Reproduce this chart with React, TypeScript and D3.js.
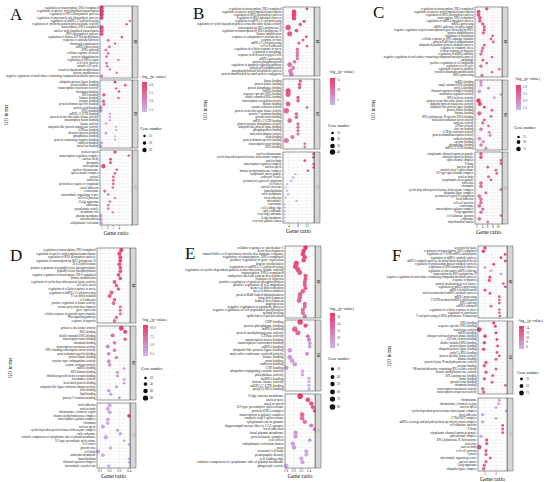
import React from 'react';
import * as d3 from 'd3';

// ---------- panel A ----------
const aBpTerms = [
  'regulation of transcription, DNA-templated', 'regulation of nucleic acid-templated transcription',
  'regulation of RNA biosynthetic process', 'regulation of macromolecule biosynthetic process',
  "regulation of mRNA 3'-end processing", 'regulation of cyclin-dependent protein kinase activity',
  'transcription, DNA-templated', 'nucleic acid-templated transcription', 'RNA biosynthetic process',
  'regulation of histone H3-K4 methylation', 'response to unfolded protein', 'chromatin organization',
  'mRNA processing', 'RNA splicing', 'cellular response to stress', 'protein ubiquitination',
  'regulation of DNA repair', 'cell cycle process', 'mitotic cell cycle', 'covalent chromatin modification',
  'histone modification', 'negative regulation of nucleobase-containing compound metabolic process',
];
const aBpRatio = [0.95, 0.95, 0.95, 0.95, 5.9, 5.35, 0.95, 0.95, 0.95, 4.5, 2.1, 3.3, 2.3, 1.7, 2.1, 1.8, 3.9, 1.8, 1.9, 2.4, 3.6, 0.95];
const aBpCount = [28, 30, 27, 25, 8, 9, 29, 26, 24, 10, 12, 9, 11, 13, 12, 11, 9, 12, 11, 10, 9, 14];
const aBpLogP = [3.1, 3.0, 3.0, 2.9, 2.8, 2.8, 2.8, 2.7, 2.7, 2.6, 2.5, 2.5, 2.5, 2.4, 2.4, 2.4, 2.3, 2.3, 2.3, 2.2, 2.2, 2.2];

const aMfTerms = [
  'ubiquitin protein ligase binding', 'protein kinase binding', 'transcription coactivator activity',
  'chromatin binding', 'RNA binding', 'histone binding', 'enzyme binding', 'protein domain specific binding',
  'nucleic acid binding', 'DNA binding', "mRNA 3'-UTR binding", 'protein serine/threonine kinase activity',
  'transcription factor binding', 'kinase activity', 'ubiquitin-like protein transferase activity',
  'GTPase binding', 'identical protein binding', 'phosphatase binding', 'protein-containing complex binding',
  'cadherin binding', 'metal ion binding',
];
const aMfRatio = [3.3, 5.1, 3.5, 4.0, 1.35, 3.9, 1.25, 1.35, 0.8, 0.8, 2.4, 2.4, 2.4, 1.7, 3.5, 3.5, 1.7, 3.3, 3.3, 0.95, 0.8];
const aMfCount = [14, 10, 9, 11, 18, 9, 16, 15, 20, 19, 8, 8, 8, 12, 8, 8, 12, 8, 8, 15, 16];
const aMfLogP = [2.9, 2.9, 2.8, 2.7, 2.6, 2.5, 2.4, 2.3, 2.0, 1.9, 1.7, 1.7, 1.7, 1.6, 1.6, 1.6, 1.6, 1.5, 1.5, 1.5, 1.5];

const aCcTerms = [
  'nuclear speck', 'transcription regulator complex', 'nuclear body', 'chromatin', 'nucleoplasm',
  'nuclear chromosome', 'spliceosomal complex', 'cytosol', 'nucleolus', 'perinuclear region of cytoplasm',
  'focal adhesion', 'centrosome', 'microtubule organizing center', 'cell-cell junction', 'Golgi apparatus',
  'endosome', 'cytoplasmic vesicle', 'membrane raft', 'plasma membrane', 'mitochondrion', 'endoplasmic reticulum',
];
const aCcRatio = [3.3, 5.7, 2.5, 2.5, 1.25, 3.6, 3.3, 3.0, 3.0, 3.0, 2.9, 1.5, 2.1, 3.3, 2.4, 2.1, 2.1, 2.9, 0.8, 0.85, 0.9];
const aCcCount = [16, 9, 13, 13, 30, 10, 11, 12, 12, 12, 11, 17, 12, 9, 11, 12, 12, 10, 20, 18, 17];
const aCcLogP = [3.0, 2.9, 2.8, 2.8, 2.8, 2.6, 2.5, 2.5, 2.4, 2.4, 2.3, 2.3, 2.2, 2.1, 2.1, 2.0, 2.0, 1.9, 1.6, 1.5, 1.4];

// ---------- panel B ----------
const bBpTerms = [
  'regulation of transcription, DNA-templated', 'regulation of nucleic acid-templated transcription',
  'regulation of RNA biosynthetic process', 'regulation of RNA metabolic process',
  "regulation of mRNA 3'-end processing", 'regulation of cyclin-dependent protein serine/threonine kinase activity',
  'transcription by RNA polymerase II', 'regulation of transcription by RNA polymerase II', 'histone modification',
  'response to endoplasmic reticulum stress', 'response to virus', "mRNA 3'-end processing", 'cell-cell adhesion',
  'regulation of cellular response to stress', 'regulation of autophagy', 'response to decreased oxygen levels',
  'mRNA processing', 'protein phosphorylation', 'regulation of apoptotic signaling pathway',
  'protein polyubiquitination', 'phosphatidylinositol biosynthetic process', 'protein modification by small protein conjugation',
];
const bBpRatio = [12.0, 6.2, 6.2, 6.2, 10.7, 9.0, 3.6, 7.3, 4.3, 11.7, 10.2, 8.4, 12.0, 7.7, 7.7, 7.7, 7.7, 6.5, 4.3, 5.8, 4.6, 5.0];
const bBpCount = [10, 32, 30, 28, 14, 16, 40, 20, 36, 12, 13, 15, 11, 16, 16, 15, 15, 18, 33, 22, 28, 25];
const bBpLogP = [15.5, 15, 14.5, 14, 13, 12.5, 12.5, 12, 12, 11.5, 11, 11, 10.5, 10.5, 10, 10, 10, 9.5, 9.5, 9, 9, 9];

const bMfTerms = [
  'kinase binding', 'protein kinase binding', 'protein phosphatase binding', 'mRNA binding',
  'sequence-specific DNA binding', 'double-stranded RNA binding', 'transcription coregulator activity',
  'histone binding', 'enzyme activator activity', 'protein serine/threonine kinase activity',
  'protein C-terminus binding', 'growth factor binding', "mRNA 3'-UTR binding", 'protein tyrosine phosphatase activity',
  'ubiquitin-like protein ligase binding', 'phosphoprotein binding', 'molecular adaptor activity', 'actin binding',
  'protein domain specific binding', 'transcription factor binding', 'RNA binding',
];
const bMfRatio = [9.0, 8.7, 8.7, 3.6, 3.6, 8.0, 8.0, 3.6, 12.0, 2.8, 7.3, 7.3, 4.3, 8.0, 8.0, 8.0, 8.0, 5.5, 2.8, 11.0, 11.0];
const bMfCount = [14, 15, 15, 38, 36, 16, 16, 34, 10, 40, 17, 17, 30, 15, 15, 14, 14, 22, 35, 11, 11];
const bMfLogP = [14, 13.5, 13, 13, 12.5, 12, 12, 11.5, 11.5, 11, 11, 10.5, 10.5, 10, 10, 10, 9.5, 9.5, 9, 9, 8.5];

const bCcTerms = [
  'nuclear chromosome', 'cyclin-dependent protein kinase holoenzyme complex', 'nuclear body',
  'transcription regulator complex', 'nuclear speck', 'histone methyltransferase complex',
  'cytoplasmic stress granule', 'endocytic vesicle', 'perinuclear region of cytoplasm', 'cell cortex',
  'nuclear envelope', 'lamellipodium', 'ruffle membrane', 'focal adhesion', 'microtubule', 'centrosome',
  'cell leading edge', 'early endosome', 'recycling endosome', 'Golgi membrane', 'secretory granule lumen',
];
const bCcRatio = [15.0, 15.0, 11.0, 15.0, 15.0, 12.4, 6.8, 5.8, 5.0, 3.1, 2.5, 3.1, 3.6, 2.5, 7.3, 2.1, 2.1, 2.1, 2.1, 2.1, 2.1];
const bCcCount = [12, 12, 10, 11, 11, 10, 8, 8, 8, 7, 6, 6, 7, 6, 8, 6, 5, 5, 5, 5, 5];
const bCcLogP = [15, 14.5, 14, 13.5, 13, 12.5, 4, 3.8, 3.6, 3.5, 3.4, 3.3, 3.2, 3.1, 3, 2.9, 2.8, 2.7, 2.6, 2.5, 2.4];

// ---------- panel C ----------
const cBpTerms = [
  'regulation of transcription, DNA-templated', 'regulation of nucleic acid-templated transcription',
  'regulation of RNA biosynthetic process', 'transcription, DNA-templated', 'regulation of mRNA metabolic process',
  'mRNA processing', 'mRNA splicing, via spliceosome', 'negative regulation of post-transcriptional gene silencing by RNA',
  'protein ubiquitination', 'regulation of translation', 'cellular response to DNA damage stimulus',
  'protein K48-linked ubiquitination', 'ubiquitin-dependent protein catabolic process', 'response to oxidative stress',
  'cellular response to hypoxia', 'regulation of mRNA stability',
  'negative regulation of nucleobase-containing compound metabolic process', 'autophagy',
  'positive regulation of cell migration', 'regulation of cell cycle', 'regulation of protein stability',
  'covalent chromatin modification', 'tRNA processing',
];
const cBpRatio = [5.7, 2.6, 2.6, 3.1, 3.1, 4.2, 4.8, 4.8, 4.4, 8.0, 7.3, 8.2, 4.8, 4.2, 3.9, 3.5, 7.7, 4.2, 5.7, 3.5, 10.5, 7.7, 3.9];
const cBpCount = [40, 55, 50, 45, 45, 38, 35, 35, 36, 28, 28, 27, 34, 36, 38, 40, 27, 36, 30, 40, 25, 27, 38];
const cBpLogP = [2.8, 2.7, 2.7, 2.7, 2.6, 2.6, 2.6, 2.6, 2.6, 2.5, 2.5, 2.5, 2.5, 2.5, 2.4, 2.4, 2.4, 2.4, 2.4, 2.4, 2.3, 2.3, 2.3];

const cMfTerms = [
  'mRNA binding', 'single-stranded RNA binding', 'poly(A) binding', 'ribonucleoprotein complex binding',
  'translation regulator activity', 'RNA helicase activity', 'protein serine/threonine kinase activity',
  'ubiquitin-protein transferase activity', 'ubiquitin-like protein ligase binding', 'protein kinase binding',
  'histone binding', 'RNA polymerase II-specific DNA-binding', 'translation initiation factor activity',
  'nuclease activity', 'ATPase activity', 'zinc ion binding', 'GTPase activator activity',
  'protein homodimerization activity', 'cadherin binding', 'enzyme binding', 'phosphatase binding', "mRNA 3'-UTR binding",
];
const cMfRatio = [3.5, 3.5, 6.4, 2.9, 11.1, 8.6, 2.6, 3.1, 4.8, 7.7, 2.9, 7.3, 4.8, 4.2, 6.4, 3.5, 6.7, 7.0, 2.9, 4.4, 3.5, 5.4];
const cMfCount = [38, 40, 30, 50, 25, 28, 70, 55, 35, 28, 60, 30, 36, 38, 30, 45, 30, 30, 55, 40, 45, 32];
const cMfLogP = [2.0, 1.9, 1.8, 1.7, 1.6, 1.6, 3.1, 3.0, 2.8, 2.6, 2.5, 2.5, 2.4, 2.3, 2.3, 2.2, 2.1, 2.0, 1.9, 1.8, 2.2, 2.1];

const cCcTerms = [
  'cytoplasmic ribonucleoprotein granule', 'ribonucleoprotein granule', 'spliceosomal complex', 'P-body',
  'nuclear speck', 'catalytic step 2 spliceosome', 'U2-type spliceosomal complex', 'nuclear body',
  'cytoplasmic stress granule', 'nucleolus', 'chromatin', 'cyclin-dependent protein kinase holoenzyme complex',
  'ubiquitin ligase complex', 'perinuclear region of cytoplasm', 'focal adhesion', 'cell-cell junction',
  'centrosome', 'transcription regulator complex', 'Golgi apparatus', 'cell-substrate junction', 'endosome',
  'mitochondrial matrix',
];
const cCcRatio = [3.5, 3.5, 11.1, 11.1, 6.1, 9.2, 9.5, 6.4, 7.3, 3.5, 3.5, 11.1, 5.4, 2.9, 3.5, 3.5, 2.9, 4.2, 3.5, 11.1, 2.9, 6.1];
const cCcCount = [45, 45, 25, 25, 32, 28, 28, 32, 30, 45, 45, 25, 34, 50, 45, 45, 50, 38, 45, 25, 50, 32];
const cCcLogP = [2.6, 2.6, 2.6, 2.6, 2.5, 2.5, 2.5, 2.5, 2.5, 2.4, 2.4, 2.4, 2.4, 2.4, 2.3, 2.3, 2.3, 2.3, 2.3, 2.3, 2.2, 2.2];

// ---------- panel D ----------
const dBpTerms = [
  'regulation of transcription, DNA-templated', 'regulation of nucleic acid-templated transcription',
  'regulation of RNA biosynthetic process', 'regulation of transcription by RNA polymerase II',
  'B cell proliferation', 'positive regulation of peptidyl-serine phosphorylation', 'peptidyl-serine phosphorylation',
  'negative regulation of transcription, DNA-templated', 'histone modification',
  'regulation of cyclin-dependent protein kinase activity', 'cell cycle arrest',
  'regulation of cellular response to stress', "regulation of mRNA 3'-end processing", 'T cell differentiation',
  'cell adhesion', 'positive regulation of kinase activity', 'neuron projection development', 'gene expression',
  'cellular response to growth factor stimulus', 'Wnt signaling pathway', 'response to hypoxia',
];
const dBpRatio = [0.32, 0.30, 0.31, 0.31, 0.30, 0.31, 0.31, 0.29, 0.31, 0.25, 0.27, 0.29, 0.22, 0.20, 0.25, 0.24, 0.31, 0.31, 0.31, 0.27, 0.25];
const dBpCount = [55, 50, 48, 45, 45, 42, 42, 40, 40, 45, 40, 38, 50, 55, 40, 40, 30, 30, 30, 38, 40];
const dBpLogP = [10.5, 10, 9.8, 9.6, 9.4, 9.2, 9, 8.8, 8.6, 8.4, 8.2, 8, 7.8, 7.6, 7.4, 7.2, 7, 7, 6.8, 6.8, 6.6];

const dMfTerms = [
  'protein serine kinase activity', 'RNA binding', 'double-stranded DNA binding', 'transcription factor binding',
  'chromatin binding', 'transcription coactivator activity', 'DNA-binding transcription factor activity',
  'protein domain specific binding', 'protein kinase binding', 'cysteine-type endopeptidase activity',
  'enzyme activator activity', 'mRNA binding', 'SH3 domain binding', 'fibroblast growth factor receptor binding',
  'ion channel activity', 'heat shock protein binding', 'ubiquitin-like ligase-substrate adaptor activity',
  'actin binding', 'lipid binding', 'protein C-terminus binding',
];
const dMfRatio = [0.32, 0.36, 0.23, 0.36, 0.25, 0.18, 0.25, 0.19, 0.27, 0.19, 0.20, 0.35, 0.28, 0.28, 0.35, 0.35, 0.27, 0.19, 0.21, 0.30];
const dMfCount = [70, 55, 50, 35, 40, 50, 40, 45, 40, 45, 45, 20, 30, 30, 25, 25, 30, 40, 35, 25];
const dMfLogP = [10, 9, 7, 8, 6, 5, 5.5, 4.5, 5, 4.5, 4, 4, 3.8, 3.6, 3.5, 3.4, 3.3, 3.2, 3.1, 3.0];

const dCcTerms = [
  'focal adhesion', 'nuclear body', 'chromosome, telomeric region', 'histone methyltransferase complex',
  'transcription regulator complex', 'chromatin', 'nuclear speck', 'cyclin-dependent protein kinase holoenzyme complex',
  'early endosome', 'extrinsic component of cytoplasmic side of plasma membrane', 'U2-type precatalytic spliceosome',
  'cell cortex', 'growth cone', 'cell body', 'endosome membrane', 'lamellipodium', 'ribonucleoprotein complex',
  'microtubule cytoskeleton',
];
const dCcRatio = [0.20, 0.18, 0.20, 0.40, 0.18, 0.18, 0.13, 0.28, 0.31, 0.16, 0.35, 0.40, 0.21, 0.08, 0.13, 0.40, 0.40, 0.19];
const dCcCount = [45, 45, 45, 40, 40, 40, 50, 35, 40, 60, 25, 20, 35, 55, 40, 20, 20, 30];
const dCcLogP = [3, 2.9, 2.9, 10.5, 2.8, 2.8, 2.7, 2.7, 2.6, 2.6, 2.5, 2.5, 2.4, 2.4, 2.3, 2.3, 2.2, 2.2];

// ---------- panel E ----------
const eBpTerms = [
  'cellular response to interleukin-1', 'heart development',
  'natural killer cell activation involved in immune response', 'regulation of transcription, DNA-templated',
  'positive regulation of gene expression', 'histone methylation', "regulation of mRNA 3'-end processing",
  'regulation of cyclin-dependent protein serine/threonine kinase activity', 'transcription, DNA-templated',
  'embryonic skeletal system development', 'response to hypoxia', 'positive regulation of protein phosphorylation',
  'positive regulation of cell migration', 'stem cell differentiation', 'fat cell differentiation',
  'protein K48-linked ubiquitination', 'lung development', 'kidney development', 'angiogenesis',
  'negative regulation of apoptotic process', 'negative regulation of cell population proliferation',
  'wound healing', 'epithelial cell proliferation',
];
const eBpRatio = [2.31, 2.26, 2.24, 2.29, 2.26, 2.07, 2.05, 2.11, 2.16, 2.31, 2.31, 2.29, 2.29, 2.31, 2.24, 2.17, 2.16, 2.14, 2.29, 2.29, 2.24, 2.24, 2.29];
const eBpCount = [55, 50, 55, 50, 48, 70, 68, 65, 60, 45, 45, 45, 45, 42, 50, 55, 55, 55, 42, 42, 45, 45, 42];
const eBpLogP = [16.5, 16, 15.8, 15.6, 15.4, 15.2, 15, 14.8, 14.6, 14.4, 14.2, 14, 14, 13.8, 13.6, 13.4, 13.2, 13, 13, 12.8, 12.6, 12.4, 12.2];

const eMfTerms = [
  'GDP binding', 'protein phosphatase binding', 'mRNA binding', 'protein methyltransferase activity',
  'GTPase activity', 'transcription factor binding', 'transcription coactivator binding', 'snRNA binding',
  'ubiquitin-like protein ligase binding', 'molecular condensate scaffold activity', 'kinase binding',
  'actin binding', 'cadherin binding', 'GTP binding', 'ubiquitin-conjugating enzyme activity',
  'phosphatase activity', 'lncRNA binding', 'histone kinase activity', "mRNA 5'-UTR binding", 'poly(U) RNA binding',
];
const eMfRatio = [2.17, 2.31, 2.03, 2.11, 2.37, 2.40, 2.42, 2.42, 1.90, 2.35, 1.90, 1.96, 2.03, 1.81, 2.23, 2.23, 2.40, 2.40, 2.40, 2.40];
const eMfCount = [75, 50, 75, 65, 40, 40, 35, 35, 55, 38, 60, 55, 55, 50, 30, 30, 30, 30, 30, 30];
const eMfLogP = [16, 15, 13.5, 13, 12, 11.5, 9, 8.5, 9.5, 10.5, 9, 9, 8.8, 8.5, 8.2, 8, 7.8, 7.6, 7.5, 7.4];

const eCcTerms = [
  'Golgi cisterna membrane', 'nuclear pore', 'nuclear speck', 'U2-type precatalytic spliceosome',
  'protein-DNA complex', 'transcription regulator complex', 'catalytic step 2 spliceosome',
  'cytoplasmic stress granule', 'hippocampal mossy fiber to CA3 synapse', 'focal adhesion',
  'basal plasma membrane', 'protein kinase complex', 'cell cortex', 'endoplasmic reticulum lumen', 'axon',
  'neuronal cell body', 'postsynaptic density', 'cell leading edge',
  'extrinsic component of cytoplasmic side of plasma membrane', 'phagocytic vesicle',
];
const eCcRatio = [2.17, 2.37, 2.46, 2.50, 2.55, 2.22, 2.22, 2.29, 2.46, 2.55, 2.05, 2.05, 2.42, 1.98, 2.01, 2.33, 2.33, 2.20, 2.23, 1.81];
const eCcCount = [80, 55, 50, 45, 40, 55, 55, 50, 45, 40, 50, 50, 35, 55, 55, 40, 40, 45, 45, 50];
const eCcLogP = [16.5, 15, 14.5, 14, 13.5, 13, 12.5, 12, 11.5, 11, 9, 8.8, 8.6, 8.5, 8.3, 8.2, 8, 7.9, 7.8, 7.6];

// ---------- panel F ----------
const fBpTerms = [
  'secretion by tissue', 'regulation of transcription, DNA-templated', "regulation of 3'-UTR mRNA stabilization",
  'regulation of mRNA catabolic process',
  'mRNA catabolic process, deadenylation-dependent decay',
  'regulation of proteasomal protein catabolic process',
  'regulation of RNA biosynthetic process', 'regulation of alternative mRNA splicing',
  'transcription by RNA polymerase II', 'negative regulation of nucleobase-containing compound metabolic process',
  'response to hypoxia', 'protein localization to cell surface', 'regulation of mRNA processing',
  'mRNA destabilization', 'nuclear-transcribed mRNA catabolic process', 'mRNA processing',
  "3'-UTR-mediated mRNA stabilization", 'RNA splicing', 'mRNA transport', 'regulation of cellular response to stress',
  'regulation of translation', "3'-end processing of RNA polymerase II transcript",
];
const fBpRatio = [1.0, 0.85, 2.82, 2.45, 2.85, 1.79, 1.0, 1.55, 2.45, 1.45, 1.39, 2.67, 2.85, 1.0, 1.45, 2.30, 2.30, 2.30, 1.55, 2.30, 2.30, 2.36];
const fBpCount = [35, 40, 25, 25, 25, 30, 30, 28, 25, 32, 32, 25, 25, 35, 30, 25, 25, 25, 28, 25, 25, 25];
const fBpLogP = [14.5, 14, 14, 13.8, 13.5, 13.2, 6, 6.5, 5.5, 13, 12.8, 12.6, 12.4, 12.2, 12, 11.8, 11.6, 11.5, 11.4, 11.2, 11, 10.8];

const fMfTerms = [
  'DNA binding', 'sequence-specific DNA binding', 'transferase activity', 'mRNA binding',
  'mitogen-activated protein kinase binding', 'AU-rich element binding', 'double-stranded RNA binding',
  'protein kinase binding', 'ubiquitin protein ligase binding', 'poly(A) RNA binding',
  'protein tyrosine kinase activity', 'histone binding', 'protein-lysine N-methyltransferase activity',
  'enzyme binding', 'N6-methyladenosine-containing RNA reader activity', 'histone methyltransferase activity',
  'RNA polymerase binding', 'kinase binding', 'growth factor binding', 'chromatin binding',
  'transcription coactivator activity', 'transcription corepressor activity',
];
const fMfRatio = [1.79, 1.94, 0.48, 2.0, 1.0, 2.09, 0.94, 2.15, 0.88, 2.09, 2.30, 2.0, 1.09, 0.94, 2.0, 1.09, 1.70, 0.94, 1.64, 2.85, 0.79, 0.88];
const fMfCount = [32, 30, 75, 30, 40, 28, 40, 28, 42, 28, 25, 30, 38, 40, 30, 38, 32, 40, 32, 25, 45, 42];
const fMfLogP = [14.5, 14.2, 14, 13.8, 13.6, 13.4, 13.2, 13, 12.8, 12.6, 12.4, 12.2, 12, 11.8, 11.6, 11.4, 11.2, 11, 10.8, 10.6, 10.4, 10.2];

const fCcTerms = [
  'chromosome', 'chromosome, telomeric region', 'nuclear speck', 'cyclin-dependent protein kinase holoenzyme complex',
  'focal adhesion', 'CCR4-NOT complex', 'mRNA cleavage and polyadenylation specificity factor complex',
  'cell-substrate junction', 'P-body', 'cytoplasmic ribonucleoprotein granule', 'spliceosomal complex',
  'RNA polymerase II, holoenzyme', 'nucleolus', 'nuclear body', 'cell-cell junction', 'cytosol',
  'microtubule organizing center', 'nuclear matrix', 'Golgi apparatus', 'ubiquitin ligase complex',
];
const fCcRatio = [2.30, 2.24, 2.0, 2.91, 0.79, 2.0, 0.79, 2.61, 2.61, 2.61, 0.64, 1.15, 1.15, 0.48, 1.09, 1.09, 1.48, 1.09, 0.94, 0.88];
const fCcCount = [30, 30, 30, 25, 38, 30, 38, 25, 25, 25, 40, 35, 35, 70, 35, 35, 30, 35, 38, 40];
const fCcLogP = [6.5, 6.3, 6.2, 6, 6, 6, 6.1, 13, 12.8, 12.6, 6, 12.4, 12.2, 12, 11.8, 11.6, 11.4, 11.2, 11, 10.8];

const LOW = '#c6b6f4';
const HIGH = '#ee3864';
const SERIF = '"Liberation Serif", "DejaVu Serif", serif';

interface Facet {
  name: string;
  terms: string[];
  ratio: number[];
  count: number[];
  logp: number[];
  y0: number;
  y1: number;
}

interface PanelCfg {
  letter: string;
  letterX: number;
  letterY: number;
  x0: number;
  x1: number;
  xDomain: [number, number];
  xTicks: number[];
  xFmt: string;
  facets: Facet[];
  fontSize: number;
  pDomain: [number, number];
  pTicks: number[];
  pFmt: string;
  sizeTicks: number[];
  rMax: number;
  lx: number;
  titleY: number;
  barY0: number;
  barY1: number;
  sizeTitleY: number;
  sizeDotY: number[];
  goX?: number;
  goY?: number;
}

const f = (name: string, terms: string[], ratio: number[], count: number[], logp: number[], y0: number, y1: number): Facet =>
  ({ name, terms, ratio, count, logp, y0, y1 });

const panels: PanelCfg[] = [
  {
    letter: 'A', letterX: 10, letterY: 20, x0: 100, x1: 132, xDomain: [0.65, 6.29], xTicks: [1, 2, 3, 4], xFmt: 'd',
    facets: [
      f('BP', aBpTerms, aBpRatio, aBpCount, aBpLogP, 6, 78),
      f('MF', aMfTerms, aMfRatio, aMfCount, aMfLogP, 80, 148),
      f('CC', aCcTerms, aCcRatio, aCcCount, aCcLogP, 150, 225),
    ],
    fontSize: 3.1, pDomain: [1.35, 3.15], pTicks: [1.5, 2.0, 2.5, 3.0], pFmt: '.1f',
    sizeTicks: [10, 20, 30], rMax: 2.2, lx: 142, titleY: 78, barY0: 82, barY1: 112,
    sizeTitleY: 130, sizeDotY: [136, 143, 150], goX: 6, goY: 115,
  },
  {
    letter: 'B', letterX: 193, letterY: 19, x0: 283, x1: 314, xDomain: [1.33, 15.1], xTicks: [4, 8, 12], xFmt: 'd',
    facets: [
      f('BP', bBpTerms, bBpRatio, bBpCount, bBpLogP, 7, 76),
      f('MF', bMfTerms, bMfRatio, bMfCount, bMfLogP, 79, 149),
      f('CC', bCcTerms, bCcRatio, bCcCount, bCcLogP, 152, 223),
    ],
    fontSize: 3.0, pDomain: [2.5, 16], pTicks: [5, 10, 15], pFmt: 'd',
    sizeTicks: [10, 20, 30, 40], rMax: 2.7, lx: 330, titleY: 73, barY0: 78, barY1: 105,
    sizeTitleY: 127, sizeDotY: [133, 139, 146, 152], goX: 205, goY: 110,
  },
  {
    letter: 'C', letterX: 373, letterY: 18, x0: 475, x1: 502, xDomain: [1.24, 11.52], xTicks: [2, 4, 6, 8, 10], xFmt: 'd',
    facets: [
      f('BP', cBpTerms, cBpRatio, cBpCount, cBpLogP, 7, 77),
      f('MF', cMfTerms, cMfRatio, cMfCount, cMfLogP, 80, 150),
      f('CC', cCcTerms, cCcRatio, cCcCount, cCcLogP, 152, 224),
    ],
    fontSize: 3.0, pDomain: [1.35, 3.15], pTicks: [1.5, 2.0, 2.5, 3.0], pFmt: '.1f',
    sizeTicks: [25, 50, 75], rMax: 2.3, lx: 516, titleY: 80, barY0: 85, barY1: 110,
    sizeTitleY: 129, sizeDotY: [137, 142, 149], goX: 373, goY: 110,
  },
  {
    letter: 'D', letterX: 10, letterY: 261, x0: 97, x1: 130, xDomain: [0.069, 0.41], xTicks: [0.1, 0.2, 0.3, 0.4], xFmt: '.1f',
    facets: [
      f('BP', dBpTerms, dBpRatio, dBpCount, dBpLogP, 248, 323),
      f('MF', dMfTerms, dMfRatio, dMfCount, dMfLogP, 326, 400),
      f('CC', dCcTerms, dCcRatio, dCcCount, dCcLogP, 403, 468),
    ],
    fontSize: 3.0, pDomain: [1.8, 11], pTicks: [2.5, 5, 7.5, 10], pFmt: '.1f',
    sizeTicks: [20, 40, 60, 80], rMax: 2.6, lx: 143, titleY: 321, barY0: 325, barY1: 356,
    sizeTitleY: 370, sizeDotY: [378, 384, 391, 398], goX: 10, goY: 368,
  },
  {
    letter: 'E', letterX: 185, letterY: 259, x0: 285, x1: 315, xDomain: [1.774, 2.557], xTicks: [1.8, 2.0, 2.2, 2.4], xFmt: '.1f',
    facets: [
      f('BP', eBpTerms, eBpRatio, eBpCount, eBpLogP, 246, 318),
      f('MF', eMfTerms, eMfRatio, eMfCount, eMfLogP, 320, 391),
      f('CC', eCcTerms, eCcRatio, eCcCount, eCcLogP, 394, 468),
    ],
    fontSize: 3.5, pDomain: [7, 17], pTicks: [8, 10, 12, 14, 16], pFmt: 'd',
    sizeTicks: [30, 40, 50, 60, 70, 80], rMax: 2.8, lx: 330, titleY: 310, barY0: 313, barY1: 348,
    sizeTitleY: 360, sizeDotY: [369, 377, 384, 392, 399, 407],
  },
  {
    letter: 'F', letterX: 392, letterY: 261, x0: 478, x1: 507, xDomain: [0.364, 3.0], xTicks: [1, 2], xFmt: 'd',
    facets: [
      f('BP', fBpTerms, fBpRatio, fBpCount, fBpLogP, 246, 318),
      f('MF', fMfTerms, fMfRatio, fMfCount, fMfLogP, 321, 394),
      f('CC', fCcTerms, fCcRatio, fCcCount, fCcLogP, 398, 471),
    ],
    fontSize: 3.0, pDomain: [5, 15], pTicks: [6, 8, 10, 12, 14], pFmt: 'd',
    sizeTicks: [25, 50, 75], rMax: 2.4, lx: 519, titleY: 322, barY0: 326, barY1: 349,
    sizeTitleY: 374, sizeDotY: [379, 386, 393], goX: 389, goY: 356,
  },
];

function Panel({ p }: { p: PanelCfg }) {
  const x = d3.scaleLinear().domain(p.xDomain).range([p.x0, p.x1]);
  const color = d3.scaleLinear<string>().domain(p.pDomain).range([LOW, HIGH]).interpolate(d3.interpolateRgb).clamp(true);
  const r = d3.scaleSqrt().domain([0, p.sizeTicks[p.sizeTicks.length - 1]]).range([0, p.rMax]);
  const bottom = p.facets[p.facets.length - 1].y1;
  const gradId = `grad-${p.letter}`;
  const barY = d3.scaleLinear().domain(p.pDomain).range([p.barY1, p.barY0]);
  const minor = d3.range(p.xTicks.length + 1).map(i => {
    const step = p.xTicks.length > 1 ? p.xTicks[1] - p.xTicks[0] : 1;
    return p.xTicks[0] - step / 2 + i * step;
  }).filter(v => v > p.xDomain[0] && v < p.xDomain[1]);

  return (
    <g>
      <defs>
        <linearGradient id={gradId} x1="0" y1="1" x2="0" y2="0">
          {d3.range(0, 1.01, 0.1).map(t => (
            <stop key={t} offset={t} stopColor={color(p.pDomain[0] + t * (p.pDomain[1] - p.pDomain[0]))} />
          ))}
        </linearGradient>
      </defs>

      <text x={p.letterX} y={p.letterY} fontFamily={SERIF} fontSize={17} fill="#111">{p.letter}</text>

      {p.facets.map(fc => {
        const n = Math.min(fc.terms.length, fc.ratio.length, fc.count.length, fc.logp.length);
        const y = d3.scalePoint<number>().domain(d3.range(n)).range([fc.y0, fc.y1]).padding(0.6);
        return (
          <g key={fc.name}>
            <rect x={p.x0} y={fc.y0} width={p.x1 - p.x0} height={fc.y1 - fc.y0} fill="#fff" />
            {minor.map(v => (
              <line key={'m' + v} x1={x(v)} x2={x(v)} y1={fc.y0} y2={fc.y1} stroke="#f0f0f0" strokeWidth={0.25} />
            ))}
            {p.xTicks.map(v => (
              <line key={'t' + v} x1={x(v)} x2={x(v)} y1={fc.y0} y2={fc.y1} stroke="#e2e2e2" strokeWidth={0.35} />
            ))}
            {d3.range(n).map(i => (
              <line key={'h' + i} x1={p.x0} x2={p.x1} y1={y(i)} y2={y(i)} stroke="#e2e2e2" strokeWidth={0.35} />
            ))}
            {d3.range(n).map(i => (
              <circle key={'c' + i} cx={x(fc.ratio[i])} cy={y(i)} r={r(fc.count[i])} fill={color(fc.logp[i])} />
            ))}
            <rect x={p.x0} y={fc.y0} width={p.x1 - p.x0} height={fc.y1 - fc.y0} fill="none" stroke="#333" strokeWidth={0.5} />
            {d3.range(n).map(i => (
              <text key={'l' + i} x={p.x0 - 1.5} y={y(i)!} dy="0.33em" textAnchor="end"
                fontFamily={SERIF} fontSize={p.fontSize} fill="#222">{fc.terms[i]}</text>
            ))}
            <rect x={p.x1 + 0.6} y={fc.y0} width={5.4} height={fc.y1 - fc.y0} fill="#d6d6d6" stroke="#333" strokeWidth={0.4} />
            <text transform={`translate(${p.x1 + 3.3},${(fc.y0 + fc.y1) / 2}) rotate(90)`} textAnchor="middle"
              dy="0.35em" fontFamily={SERIF} fontSize={3} fill="#222">{fc.name}</text>
          </g>
        );
      })}

      {p.xTicks.map(v => (
        <g key={'xt' + v}>
          <line x1={x(v)} x2={x(v)} y1={bottom} y2={bottom + 1} stroke="#333" strokeWidth={0.35} />
          <text x={x(v)} y={bottom + 4} textAnchor="middle" fontFamily={SERIF} fontSize={3.4} fill="#333">
            {d3.format(p.xFmt)(v)}
          </text>
        </g>
      ))}
      <text x={(p.x0 + p.x1) / 2} y={bottom + 10} textAnchor="middle" fontFamily={SERIF} fontSize={6} fill="#111">Gene ratio</text>

      {p.goX !== undefined && (
        <text transform={`translate(${p.goX},${p.goY}) rotate(-90)`} textAnchor="middle" dy="0.35em"
          fontFamily={SERIF} fontSize={5.2} fill="#111">GO terms</text>
      )}

      <text x={p.lx - 2} y={p.titleY} fontFamily={SERIF} fontSize={4} fill="#111">
        −log<tspan fontSize={2.8} dy={1}>10</tspan><tspan dy={-1}>(p−value)</tspan>
      </text>
      <rect x={p.lx} y={p.barY0} width={5} height={p.barY1 - p.barY0} fill={`url(#${gradId})`} />
      {p.pTicks.map(v => (
        <g key={'pt' + v}>
          <line x1={p.lx} x2={p.lx + 1} y1={barY(v)} y2={barY(v)} stroke="#fff" strokeWidth={0.3} />
          <line x1={p.lx + 4} x2={p.lx + 5} y1={barY(v)} y2={barY(v)} stroke="#fff" strokeWidth={0.3} />
          <text x={p.lx + 7} y={barY(v)} dy="0.35em" fontFamily={SERIF} fontSize={3.2} fill="#333">
            {d3.format(p.pFmt)(v)}
          </text>
        </g>
      ))}

      <text x={p.lx - 2} y={p.sizeTitleY} fontFamily={SERIF} fontSize={4} fill="#111">Gene number</text>
      {p.sizeTicks.map((v, i) => (
        <g key={'st' + v}>
          <circle cx={p.lx + 2.5} cy={p.sizeDotY[i]} r={r(v)} fill="#111" />
          <text x={p.lx + 7} y={p.sizeDotY[i]} dy="0.35em" fontFamily={SERIF} fontSize={3.2} fill="#333">{v}</text>
        </g>
      ))}
    </g>
  );
}

export default function App() {
  return (
    <svg width={550} height={482} viewBox="0 0 550 482"
      style={{ position: 'absolute', left: 0, top: 0, display: 'block', background: '#fff' }}>
      <rect width={550} height={482} fill="#fff" />
      {panels.map(p => <Panel key={p.letter} p={p} />)}
    </svg>
  );
}
